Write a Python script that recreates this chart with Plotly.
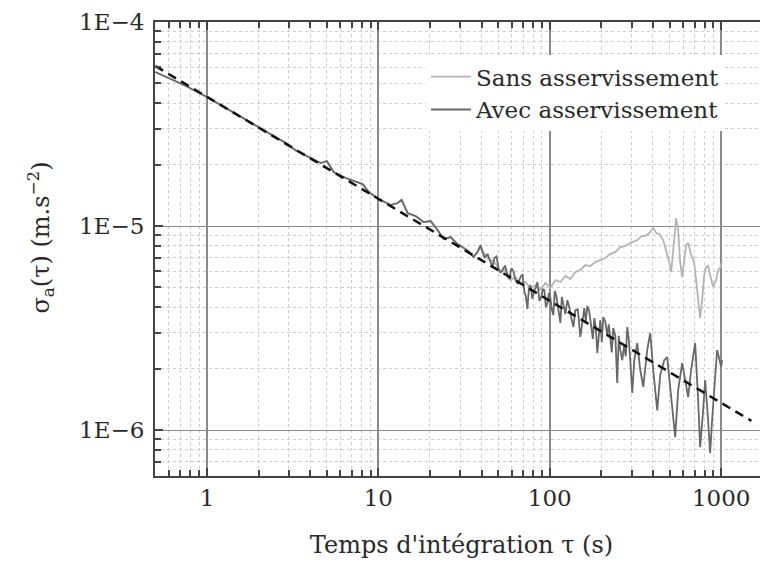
import plotly.graph_objects as go

# Integration time tau (s) and Allan deviation in micro m.s^-2 (x1e-6)
tau_avec = [0.5, 0.617, 0.755, 1.0, 1.29, 1.69, 1.955, 2.36, 2.885, 3.30, 3.77, 4.61, 5.00, 5.49,
            6.45, 7.38, 8.10, 8.78, 10.04, 11.79, 12.95, 13.67, 14.81, 16.49, 18.36, 20.17, 22.15,
            24.01, 26.37, 28.96, 31.40, 33.57, 35.89, 37.87, 39.43, 41.60, 43.32, 45.08, 46.30,
            47.56, 48.90, 50.19, 51.56, 52.96, 54.80, 56.63, 58.00, 59.76, 61.40, 63.05, 65.20,
            67.43, 69.30, 71.14, 72.60, 74.07, 75.50, 77.09, 79.20, 81.35, 83.00, 84.69, 87.00,
            89.36, 91.20, 93.00, 94.90, 96.83, 98.80, 100.8, 102.8, 104.9, 107.0, 109.2, 112.2,
            115.3, 117.6, 120.0, 123.3, 126.6, 130.0, 133.6, 137.3, 141.0, 145.8, 150.7, 154.8,
            159.0, 162.3, 165.6, 170.0, 174.7, 178.3, 181.9, 185.6, 189.3, 193.2, 197.1, 201.1,
            205.2, 210.8, 216.5, 220.9, 225.4, 230.0, 234.6, 241.1, 247.5, 252.5, 257.7, 264.7,
            271.9, 277.5, 283.1, 289.0, 294.7, 302.8, 311.1, 323.8, 337.1, 351.0, 370.3, 385.5,
            401.3, 423.4, 440.8, 465.1, 484.1, 504.0, 517.7, 538.9, 561.1, 592.0, 616.3, 641.6,
            667.9, 704.7, 733.7, 753.6, 784.6, 805.9, 838.9, 861.7, 885.1, 909.2, 946.5, 972.3,
            998.6, 1012]
sigma_avec_u = [56.9, 52.6, 48.6, 42.9, 37.9, 33.3, 30.9, 28.1, 25.5, 23.45, 22.16, 20.36, 20.83, 18.39,
                17.19, 16.43, 16.06, 14.68, 13.57, 12.68, 12.97, 13.42, 11.58, 11.19, 10.46, 10.58, 9.56,
                8.64, 8.83, 8.16, 7.80, 7.54, 7.05, 7.46, 8.07, 6.97, 7.30, 6.74, 6.30,
                6.97, 7.10, 6.22, 5.90, 6.09, 6.40, 5.75, 5.50, 6.22, 6.00, 5.44, 5.20,
                5.62, 5.80, 4.75, 4.50, 3.92, 4.90, 5.14, 4.40, 4.86, 5.00, 5.32, 4.30,
                4.54, 4.90, 4.86, 4.00, 4.19, 4.70, 4.44, 3.90, 3.66, 4.80, 4.54, 3.80,
                3.35, 4.50, 4.10, 3.70, 4.34, 4.00, 3.54, 3.20, 3.87, 3.90, 2.86, 3.30,
                3.96, 3.40, 4.06, 3.80, 3.09, 2.80, 3.54, 3.20, 2.39, 3.00, 3.46, 2.70,
                3.58, 3.40, 2.92, 3.30, 2.76, 2.40, 3.16, 2.90, 1.70, 2.90, 2.47, 2.20,
                2.61, 2.30, 3.20, 2.80, 2.20, 1.52, 2.20, 2.67, 1.97, 1.63, 2.47, 2.99,
                1.97, 1.25, 1.86, 2.20, 2.28, 1.66, 1.33, 0.924, 1.57, 2.13, 1.76, 1.45,
                1.97, 2.67, 1.40, 0.825, 1.25, 1.76, 1.12, 0.771, 1.12, 1.57, 2.47, 2.25,
                2.04, 2.20]

tau_sans = [0.5, 0.617, 0.755, 1.0, 1.29, 1.69, 1.955, 2.36, 2.885, 3.30, 3.77, 4.61, 5.00, 5.49,
            6.45, 7.38, 8.10, 8.78, 10.04, 11.79, 12.95, 13.67, 14.81, 16.49, 18.36, 20.17, 22.15,
            24.01, 26.37, 28.96, 31.40, 33.57, 35.89, 37.87, 39.43, 43.32, 47.56, 51.56, 55.14,
            58.96, 63.05, 67.43, 72.10, 77.09, 82.45, 88.17, 94.28, 100.8, 107.8, 115.3, 123.3,
            131.8, 141.0, 150.7, 161.2, 172.4, 184.4, 197.1, 210.8, 225.4, 241.1, 257.7, 275.6,
            294.7, 306.9, 323.8, 341.7, 360.5, 380.4, 401.3, 417.8, 434.9, 458.9, 477.6, 497.3,
            510.9, 524.8, 538.9, 546.2, 561.1, 576.3, 592.0, 608.0, 624.6, 641.6, 667.9, 695.3,
            714.3, 733.7, 753.6, 774.2, 795.4, 817.0, 838.9, 861.7, 897.5, 933.9, 959.4, 985.4, 1012]
sigma_sans_u = [56.9, 52.6, 48.6, 42.9, 37.9, 33.3, 30.9, 28.1, 25.5, 23.45, 22.16, 20.36, 20.83, 18.39,
                17.19, 16.43, 16.06, 14.68, 13.57, 12.68, 12.97, 13.42, 11.58, 11.19, 10.46, 10.58, 9.56,
                8.64, 8.83, 8.16, 7.80, 7.54, 7.05, 7.46, 7.80, 6.97, 6.66, 5.95, 6.09,
                5.44, 5.62, 5.26, 5.32, 4.97, 5.14, 4.86, 5.26, 4.97, 5.44, 5.32, 5.69,
                5.50, 5.95, 6.09, 6.44, 6.37, 6.66, 6.81, 6.97, 7.29, 7.46, 7.89, 7.98,
                8.25, 8.35, 8.54, 8.93, 8.93, 9.24, 9.78, 9.24, 9.14, 8.54, 7.63, 6.66,
                5.95, 7.63, 10.11, 10.94, 9.56, 6.66, 5.62, 6.81, 8.07, 8.25, 7.21, 6.66,
                5.44, 4.34, 3.54, 4.34, 5.75, 6.29, 6.37, 5.75, 5.02, 5.44, 6.09, 6.22, 6.66]

# white-noise fit (tau^-1/2) end points
tau_fit = [0.5, 1500]
sigma_fit_u = [60.8, 1.11]

y_tickvals = [1e-6, 1e-5, 1e-4]
y_ticktext = ["1E\u22126", "1E\u22125", "1E\u22124"]
x_tickvals = [1, 10, 100, 1000]
x_ticktext = ["1", "10", "100", "1000"]
x_minor = [k * 10.0 ** n for n in range(-1, 4) for k in range(2, 10)]
y_minor = [k * 10.0 ** n for n in range(-7, -4) for k in range(2, 10)]

scale = 1e-6
FONT = "DejaVu Serif"

fig = go.Figure()
fig.add_trace(go.Scatter(x=tau_sans, y=[v * scale for v in sigma_sans_u], mode="lines",
                         name="Sans asservissement", line=dict(color="#b4b4b4", width=1.8)))
fig.add_trace(go.Scatter(x=tau_avec, y=[v * scale for v in sigma_avec_u], mode="lines",
                         name="Avec asservissement", line=dict(color="#686868", width=1.8)))
fig.add_trace(go.Scatter(x=tau_fit, y=[v * scale for v in sigma_fit_u], mode="lines",
                         showlegend=False, line=dict(color="#111111", width=2.5, dash="9px,6px")))

fig.update_layout(
    width=768, height=575,
    margin=dict(l=147, r=8, t=14, b=107, autoexpand=False),
    paper_bgcolor="white", plot_bgcolor="white",
    font=dict(family=FONT, size=23, color="#2a2a2a"),
    legend=dict(x=0.442, y=0.927, xanchor="left", yanchor="top", bgcolor="white",
                font=dict(family=FONT, size=23, color="#2a2a2a"), tracegroupgap=0,
                itemwidth=40),
    showlegend=True,
)
fig.add_annotation(
    text="\u03c3<sub>a</sub>(\u03c4) (m.s<sup>\u22122</sup>)",
    xref="paper", yref="paper", x=-0.187, y=0.526, textangle=-90,
    showarrow=False, xanchor="center", yanchor="middle",
    font=dict(family=FONT, size=24, color="#2a2a2a"),
)
fig.update_xaxes(
    type="log", range=[-0.303, 3.273], automargin=False,
    tickvals=x_tickvals, ticktext=x_ticktext,
    showline=True, linecolor="#444", linewidth=2, mirror="ticks",
    ticks="inside", ticklen=8, tickcolor="#444", tickwidth=1.5,
    showgrid=True, gridcolor="#8a8a8a", gridwidth=1.5,
    minor=dict(tickmode="array", tickvals=x_minor, ticks="inside", ticklen=6, tickcolor="#444",
               showgrid=True, gridcolor="#cdcdcd", griddash="dot", gridwidth=1),
    title=dict(text="Temps d'intégration \u03c4 (s)", standoff=27,
               font=dict(family=FONT, size=24)),
    zeroline=False,
)
fig.update_yaxes(
    type="log", range=[-6.225, -4.0], automargin=False,
    tickvals=y_tickvals, ticktext=y_ticktext, ticklabelstandoff=4,
    showline=True, linecolor="#444", linewidth=2, mirror=False,
    ticks="inside", ticklen=8, tickcolor="#444", tickwidth=1.5,
    showgrid=True, gridcolor="#8a8a8a", gridwidth=1,
    minor=dict(tickmode="array", tickvals=y_minor, ticks="inside", ticklen=6, tickcolor="#444",
               showgrid=True, gridcolor="#cdcdcd", griddash="dot", gridwidth=1),
    zeroline=False,
)

fig.write_html("out.html")
